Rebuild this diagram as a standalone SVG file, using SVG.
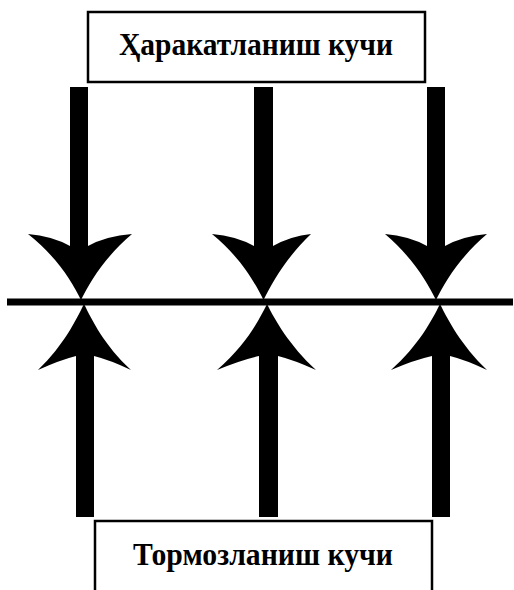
<svg xmlns="http://www.w3.org/2000/svg" width="514" height="590" viewBox="0 0 514 590">
<style>
.box{fill:#fff;stroke:#000;stroke-width:2.5}
.lbl{font-family:"Liberation Serif","DejaVu Serif",serif;font-weight:bold;font-size:31px;fill:#000}
.arr{fill:#000;stroke:none}
</style>
<rect width="514" height="590" fill="#fff"/>
<g id="top-label">
<rect class="box" x="88" y="12" width="337" height="70"/>
<text class="lbl" x="119" y="55" textLength="274" lengthAdjust="spacingAndGlyphs">Ҳаракатланиш кучи</text>
</g>
<g id="bottom-label">
<rect class="box" x="95" y="521" width="337" height="75"/>
<text class="lbl" x="133" y="565" textLength="260" lengthAdjust="spacingAndGlyphs">Тормозланиш кучи</text>
</g>
<g id="connectors">
<rect x="7" y="298.5" width="506" height="7" fill="#000"/>
<!-- top arrows -->
<path class="arr" d="M81,300 C72,282 58,258 28,234 Q52,236 70,246 L70,87 L88,87 L88,246 Q106,236 132,234 C104,258 90,282 81,300 Z"/>
<path class="arr" d="M263.5,300 C254.5,282 241,258 212,234 Q236,236 254,246 L254,87 L273,87 L273,246 Q291,236 311,234 C286,258 272.5,282 263.5,300 Z"/>
<path class="arr" d="M436,300 C427,282 413,258 385,234 Q409,236 427,246 L427,87 L445,87 L445,246 Q463,236 487,234 C459,258 445,282 436,300 Z"/>
<!-- bottom arrows -->
<path class="arr" d="M84,304 C76,320 64,345 38,370 Q60,360 76,356 L76,517 L94,517 L94,356 Q110,360 131,370 C104,345 92,320 84,304 Z"/>
<path class="arr" d="M267,304 C259,320 246,345 217,370 Q241,360 259,356 L259,517 L278,517 L278,356 Q294,360 316,370 C289,345 275,320 267,304 Z"/>
<path class="arr" d="M440,304 C432,320 419,345 391,370 Q414,360 432,356 L432,517 L450,517 L450,356 Q466,360 487,370 C461,345 448,320 440,304 Z"/>
</g>
</svg>
